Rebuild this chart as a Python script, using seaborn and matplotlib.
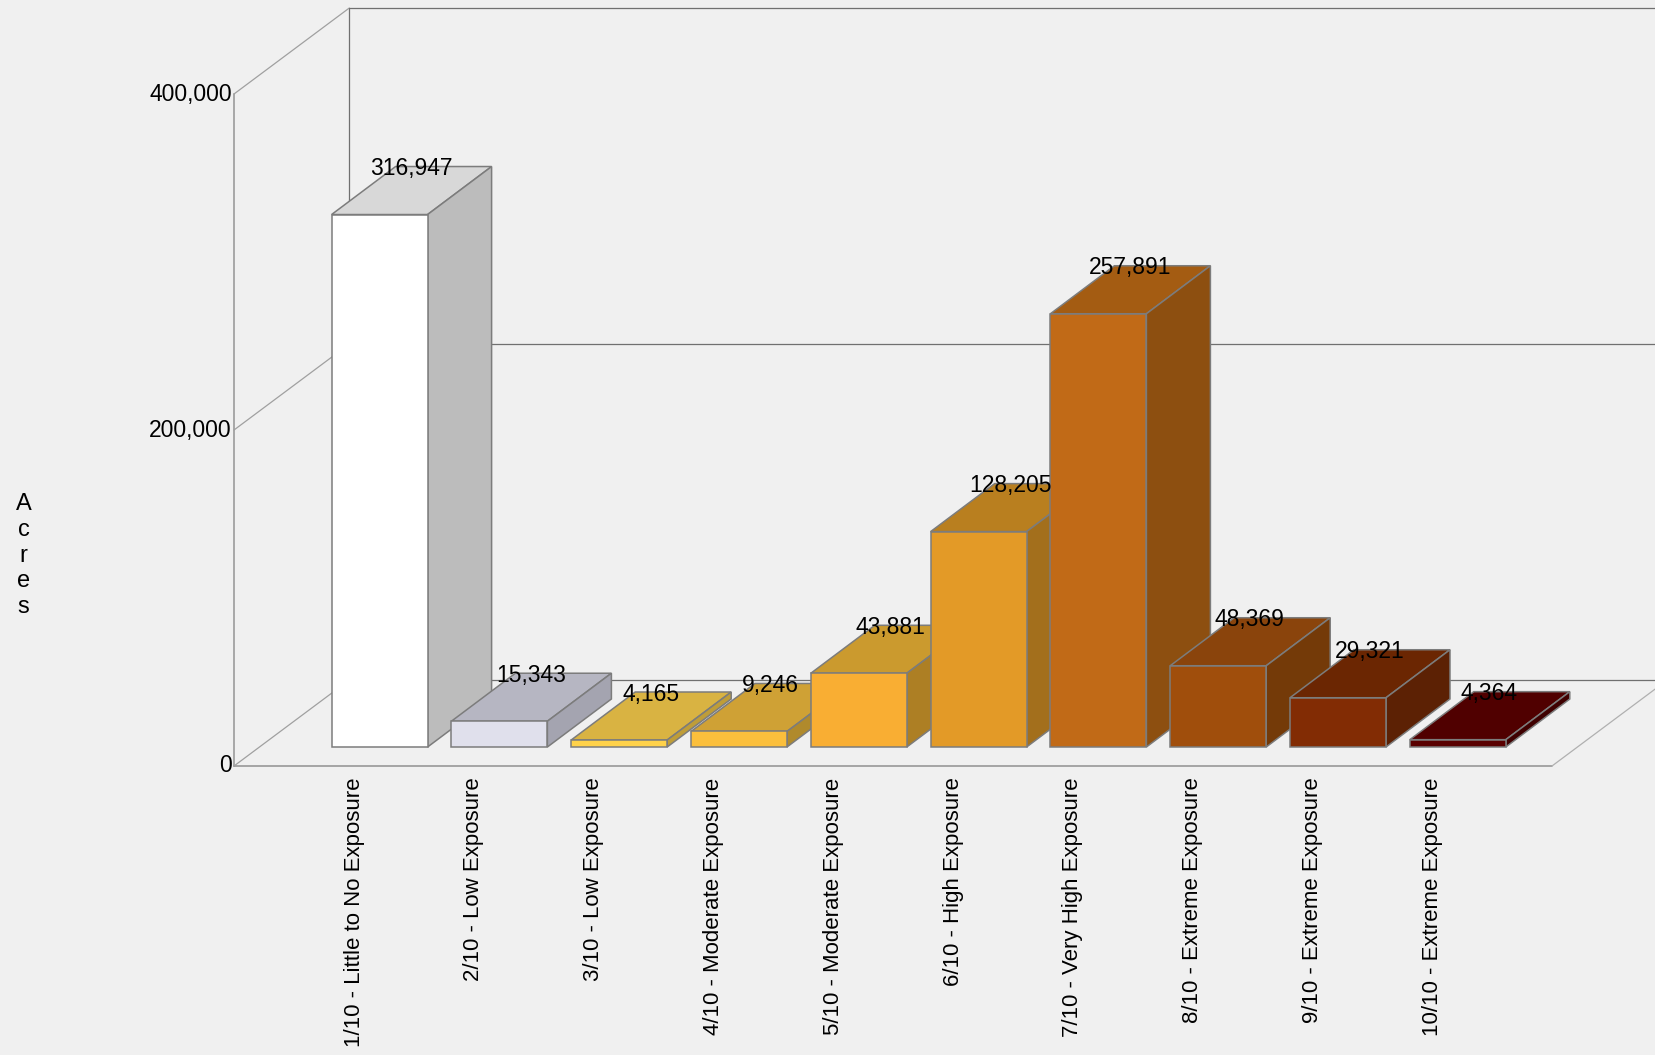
import pandas as pd
import matplotlib.pyplot as plt
import seaborn as sns
from matplotlib.patches import Polygon
from matplotlib.transforms import ScaledTranslation

# dados
categorias = ['1/10 - Little to No Exposure', '2/10 - Low Exposure', '3/10 - Low Exposure',
              '4/10 - Moderate Exposure', '5/10 - Moderate Exposure', '6/10 - High Exposure',
              '7/10 - Very High Exposure', '8/10 - Extreme Exposure', '9/10 - Extreme Exposure',
              '10/10 - Extreme Exposure']
acres = [316947, 15343, 4165, 9246, 43881, 128205, 257891, 48369, 29321, 4364]
y_ticks = [0, 200000, 400000]

cor_frente = ['#ffffff', '#e0e0ec', '#ffd24a', '#fbbf3c', '#f9ae33',
              '#e39a27', '#c16a17', '#a04e0c', '#822c04', '#5a0000']
cor_topo = ['#d8d8d8', '#b6b6c2', '#d9b342', '#cfa135', '#cb9a2e',
            '#b97f1f', '#a45c12', '#8a440c', '#6b2602', '#500000']
cor_lado = ['#bcbcbc', '#a4a4b0', '#bf9d38', '#b08a2c', '#ad7f24',
            '#a36f1c', '#8d4f10', '#743a08', '#5c2104', '#3f0000']

df = pd.DataFrame({'categoria': categorias, 'acres': acres})

sns.set_style('white')
plt.rcParams['font.family'] = ['Liberation Sans', 'DejaVu Sans']
plt.rcParams['text.color'] = 'black'
plt.rcParams['xtick.color'] = 'black'
plt.rcParams['ytick.color'] = 'black'
plt.rcParams['axes.labelcolor'] = 'black'

W, H = 1656, 1055
FUNDO = '#f0f0f0'
fig = plt.figure(figsize=(W / 100, H / 100), dpi=100, facecolor=FUNDO)

# eixo no plano das barras, em pixels da figura
esq, base, topo = 234, 747, 75
ax = fig.add_axes([esq / W, (H - base) / H, (W - esq) / W, (base - topo) / H])
ax.set_facecolor('none')

sns.barplot(data=df, x='categoria', y='acres', hue='categoria', palette=cor_frente,
            order=categorias, hue_order=categorias, legend=False, saturation=1,
            width=96 / 119.8, edgecolor='#7c7c7c', linewidth=1.1, ax=ax)

ax.set_xlim((esq - 379.6) / 119.8, (W - 379.6) / 119.8)
ax.set_ylim(0, 400000)

# profundidade do efeito 3D, em unidades dos dados
px_x = 1 / 119.8
px_y = 400000 / (base - topo)
dx, dy = 64 * px_x, 48 * px_y

# paredes e chao
x0 = ax.get_xlim()[0]
chao_frente = -19 * px_y
chao_fundo = chao_frente + 86 * px_y
fundo_x = x0 + 115.3 * px_x
fim_x = x0 + (1552 - esq) * px_x
linhas = [
    ([x0, x0], [chao_frente, chao_frente + 400000], '#a8a8a8', 1.4),
    ([x0, fim_x], [chao_frente, chao_frente], '#909090', 1.1),
    ([fundo_x, fundo_x], [chao_fundo, chao_fundo + 400000], '#707070', 0.9),
    ([fim_x, fim_x + 115.3 * px_x], [chao_frente, chao_fundo], '#b0b0b0', 0.9),
]
for v in y_ticks:
    linhas.append(([x0, fundo_x], [chao_frente + v, chao_fundo + v], '#a0a0a0', 0.9))
    linhas.append(([fundo_x, ax.get_xlim()[1]], [chao_fundo + v, chao_fundo + v], '#707070', 0.9))
for xs, ys, cor, lw in linhas:
    ax.plot(xs, ys, color=cor, lw=lw, clip_on=False, zorder=1)

# cada barra ganha topo e lateral a partir do retangulo do seaborn
barras = list(ax.patches)
for i, barra in enumerate(barras):
    x1 = barra.get_x()
    x2 = x1 + barra.get_width()
    h = barra.get_height()
    z = 2 + i
    barra.set_zorder(z + 0.2)
    barra.set_clip_on(False)
    ax.add_patch(Polygon([(x1, h), (x2, h), (x2 + dx, h + dy), (x1 + dx, h + dy)], closed=True,
                         facecolor=cor_topo[i], edgecolor='#7c7c7c', lw=1.1, zorder=z, clip_on=False))
    ax.add_patch(Polygon([(x2, 0), (x2, h), (x2 + dx, h + dy), (x2 + dx, dy)], closed=True,
                         facecolor=cor_lado[i], edgecolor='#7c7c7c', lw=1.1, zorder=z, clip_on=False))
    ax.text(x1 + barra.get_width() / 2 + dx / 2 - 0.5 * px_x, h + dy - 2 * px_y, f'{acres[i]:,}',
            ha='center', va='center', fontsize=16.5, color='black', zorder=50, clip_on=False)

sns.despine(ax=ax, left=True, bottom=True)
ax.set_xlabel('')
ax.set_yticks(y_ticks, [f'{v:,}' for v in y_ticks])
ax.set_xticks(range(len(categorias)), categorias)
ax.tick_params(axis='x', length=0, pad=22, labelsize=16.05, labelrotation=90)
ax.tick_params(axis='y', length=0, pad=1.6, labelsize=16.5)

# rotulos ficam no plano da frente, nao no plano das barras
for rotulo in ax.get_xticklabels():
    rotulo.set_transform(rotulo.get_transform() + ScaledTranslation(-25.5 / 100, 0, fig.dpi_scale_trans))
for rotulo in ax.get_yticklabels():
    rotulo.set_transform(rotulo.get_transform() + ScaledTranslation(0, -16.5 / 100, fig.dpi_scale_trans))

ax.set_ylabel('A\nc\nr\ne\ns', rotation=0, ha='center', va='center', ma='center',
              fontsize=17, linespacing=1.22)
ax.yaxis.set_label_coords((23.5 - esq) / (W - esq), (base - 555.7) / (base - topo))

fig.savefig('out.png', dpi=100, facecolor=FUNDO)
